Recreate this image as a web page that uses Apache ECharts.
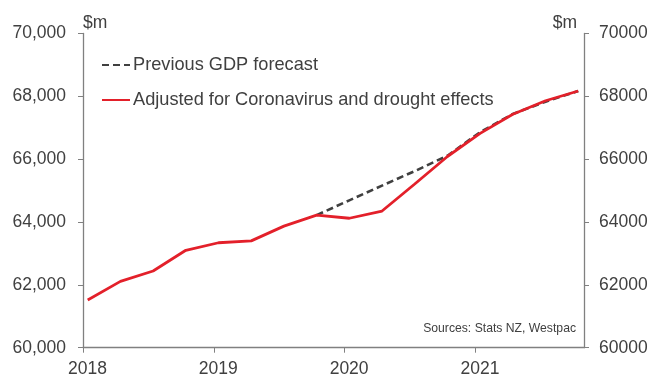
<!DOCTYPE html>
<html>
<head>
<meta charset="utf-8">
<script src="https://cdn.jsdelivr.net/npm/echarts@6/dist/echarts.min.js"></script>
<style>html,body{margin:0;padding:0;background:#fff}#c{width:654px;height:378px}</style>
</head>
<body>
<div id="c"></div>
<script>
const quarters = ['2018Q1','2018Q2','2018Q3','2018Q4','2019Q1','2019Q2','2019Q3','2019Q4',
                  '2020Q1','2020Q2','2020Q3','2020Q4','2021Q1','2021Q2','2021Q3','2021Q4'];
const adjusted = [61520, 62110, 62440, 63100, 63340, 63400, 63870, 64220,
                  64120, 64350, 65210, 66085, 66820, 67430, 67860, 68170];
const previous = [null, null, null, null, null, null, null, 64220,
                  64690, 65160, 65620, 66110, 66860, 67440, 67830, 68170];
const yearTicks = [2018, 2019, 2020, 2021];
const seriesNames = ['Previous GDP forecast', 'Adjusted for Coronavirus and drought effects'];

const xPos = quarters.map(q => {
  const y = +q.slice(0, 4), n = +q.slice(5);
  return y + (n - 1) / 4 + 0.036;
});
const pairs = arr => arr.map((v, i) => [xPos[i], v]);

const txt = '#404040', axisCol = '#808080', font = 'Liberation Sans, Arial, sans-serif';
const chart = echarts.init(document.getElementById('c'), null, {renderer: 'canvas'});
chart.setOption({
  animation: false,
  grid: {left: 83, right: 70, top: 33.5, bottom: 30.3, containLabel: false},
  legend: {
    orient: 'vertical', left: 96, top: 51, itemWidth: 28, itemHeight: 14, itemGap: 17,
    itemStyle: {opacity: 0},
    textStyle: {fontFamily: font, fontSize: 18.2, color: txt, padding: [0,0,0,-2]},
    data: seriesNames
  },
  xAxis: {
    type: 'value', min: 2018, max: 2021.83, interval: 1,
    splitLine: {show: false},
    axisLine: {lineStyle: {color: axisCol, width: 1.3}},
    axisTick: {show: true, length: 5, lineStyle: {color: axisCol}, customValues: yearTicks},
    axisLabel: {fontFamily: font, fontSize: 17.5, color: txt, margin: 12, padding: [0,0,0,9],
                customValues: yearTicks, formatter: v => String(v)}
  },
  yAxis: [
    {type: 'value', min: 60000, max: 70000, interval: 2000, position: 'left',
     name: '$m', nameGap: 1, nameTextStyle: {fontFamily: font, fontSize: 17.5, color: txt, align: 'left', padding: [0,0,0,0]},
     splitLine: {show: false},
     axisLine: {show: true, lineStyle: {color: axisCol, width: 1.3}},
     axisTick: {show: true, length: 5, lineStyle: {color: axisCol}},
     axisLabel: {fontFamily: font, fontSize: 17.5, color: txt, margin: 17,
                 formatter: v => v.toLocaleString('en-US')}},
    {type: 'value', min: 60000, max: 70000, interval: 2000, position: 'right',
     name: '$m', nameGap: 1, nameTextStyle: {fontFamily: font, fontSize: 17.5, color: txt, align: 'right', padding: [0,7,0,0]},
     splitLine: {show: false},
     axisLine: {show: true, lineStyle: {color: axisCol, width: 1.3}},
     axisTick: {show: true, length: 5, lineStyle: {color: axisCol}},
     axisLabel: {fontFamily: font, fontSize: 17.5, color: txt, margin: 15,
                 formatter: v => String(v)}}
  ],
  series: [
    {name: seriesNames[0], type: 'line', data: pairs(previous), symbol: 'none', connectNulls: false,
     lineStyle: {color: '#404040', width: 2.6, type: [7, 4]}, itemStyle: {color: '#404040'}, z: 2},
    {name: seriesNames[1], type: 'line', data: pairs(adjusted), symbol: 'none',
     lineStyle: {color: '#E3202A', width: 2.8}, itemStyle: {color: '#E3202A'}, z: 3}
  ],
  graphic: [{type: 'text', right: 78, top: 323,
    style: {text: 'Sources: Stats NZ, Westpac', font: '12.2px Liberation Sans, Arial, sans-serif', fill: txt}}]
});
</script>
</body>
</html>
